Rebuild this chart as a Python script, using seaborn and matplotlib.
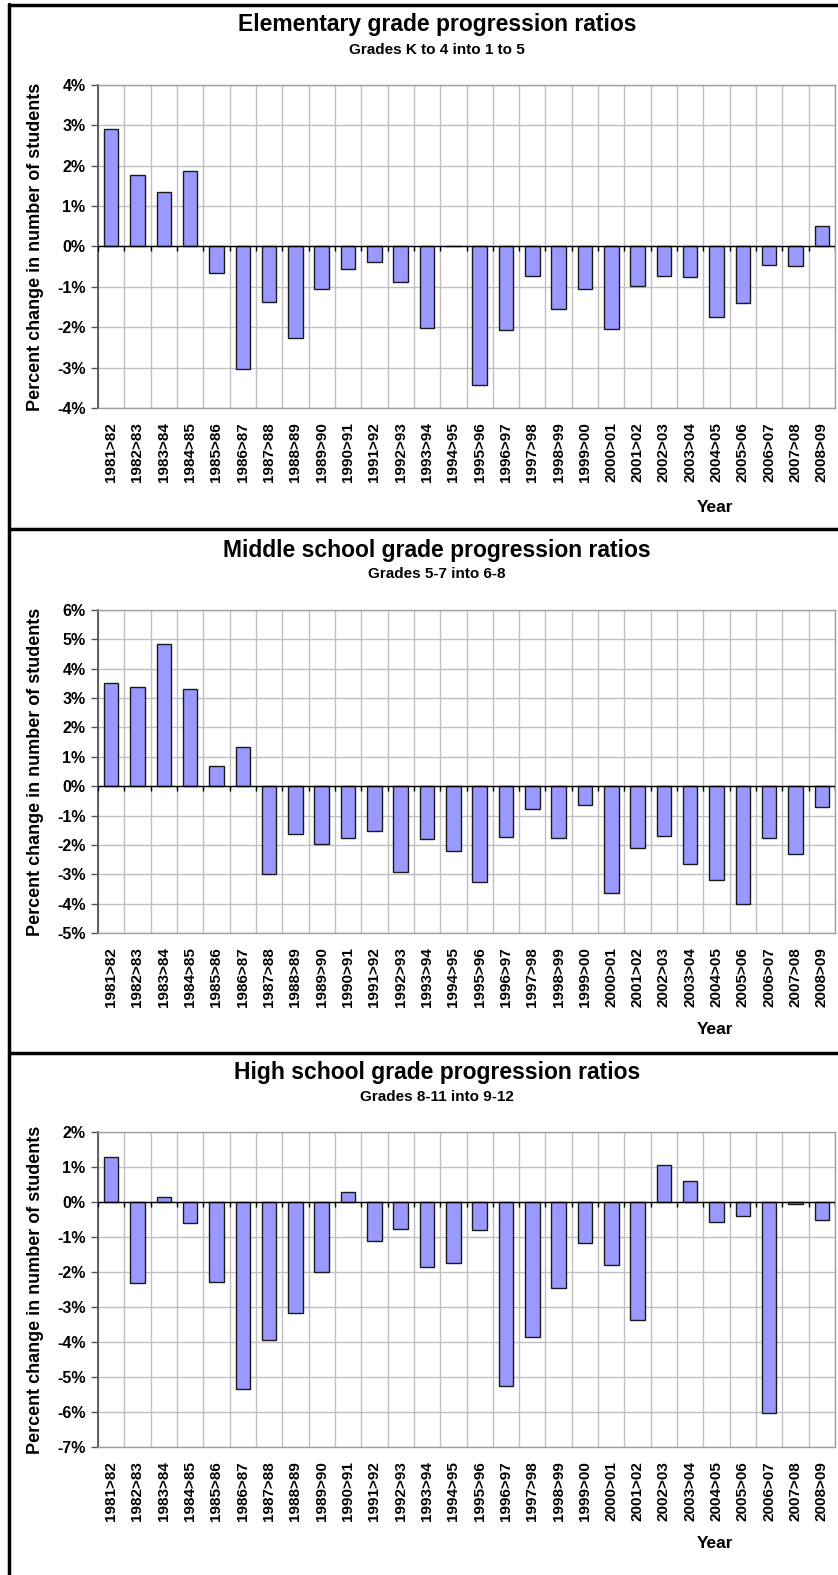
import numpy as np
import matplotlib
matplotlib.use("Agg")
import matplotlib.pyplot as plt
from matplotlib.lines import Line2D
from matplotlib.ticker import FuncFormatter, FixedLocator
import matplotlib.transforms as mtransforms
import seaborn as sns

# School-year transitions shared by all three panels
years = ["1981>82", "1982>83", "1983>84", "1984>85", "1985>86", "1986>87",
         "1987>88", "1988>89", "1989>90", "1990>91", "1991>92", "1992>93",
         "1993>94", "1994>95", "1995>96", "1996>97", "1997>98", "1998>99",
         "1999>00", "2000>01", "2001>02", "2002>03", "2003>04", "2004>05",
         "2005>06", "2006>07", "2007>08", "2008>09"]

# Percent change in number of students
elementary = [2.90, 1.76, 1.35, 1.87, -0.65, -3.03, -1.38, -2.27, -1.05, -0.56,
              -0.38, -0.88, -2.02, 0.02, -3.43, -2.06, -0.73, -1.54, -1.05, -2.05,
              -0.97, -0.74, -0.75, -1.74, -1.39, -0.46, -0.49, 0.50]
middle = [3.50, 3.38, 4.85, 3.30, 0.69, 1.35, -2.98, -1.63, -1.96, -1.78,
          -1.51, -2.93, -1.81, -2.22, -3.27, -1.72, -0.77, -1.78, -0.63, -3.64,
          -2.12, -1.71, -2.66, -3.21, -4.02, -1.78, -2.30, -0.71]
high = [1.30, -2.30, 0.14, -0.59, -2.28, -5.35, -3.94, -3.18, -1.99, 0.29,
        -1.10, -0.78, -1.85, -1.73, -0.79, -5.27, -3.86, -2.46, -1.18, -1.80,
        -3.38, 1.05, 0.61, -0.57, -0.39, -6.03, -0.05, -0.50]

titles = ["Elementary grade progression ratios",
          "Middle school grade progression ratios",
          "High school grade progression ratios"]
subtitles = ["Grades K to 4 into 1 to 5",
             "Grades 5-7 into 6-8",
             "Grades 8-11 into 9-12"]
y_ranges = [(-4, 4), (-5, 6), (-7, 2)]
series = [elementary, middle, high]

sns.set_theme(style="white")
plt.rcParams["font.family"] = ["Liberation Sans", "DejaVu Sans"]
plt.rcParams["font.weight"] = "bold"
plt.rcParams["text.color"] = "black"
plt.rcParams["axes.labelcolor"] = "black"
plt.rcParams["xtick.color"] = "black"
plt.rcParams["ytick.color"] = "black"
plt.rcParams["ytick.left"] = True

W, H = 838, 1575
fig = plt.figure(figsize=(W / 100, H / 100), dpi=100)
fig.patch.set_facecolor("white")

# panel layout in pixels: plot top, plot bottom, title y, subtitle y, "Year" y
layout = [
    (85, 408, 25, 50, 507),
    (610, 933, 551, 574, 1030),
    (1132, 1447, 1073, 1097, 1543),
]
left_px, right_px = 98, 835
bar_color = "#9999FF"
grid_color = "#C0C0C0"
axis_color = "#555555"


def fx(px):
    return px / W


def fy(py):
    return 1 - py / H


for vals, title, sub, (ymin, ymax), (top, bot, ty, sy, yy) in zip(
        series, titles, subtitles, y_ranges, layout):
    ax = fig.add_axes([fx(left_px), fy(bot), fx(right_px - left_px), (bot - top) / H])
    sns.barplot(x=years, y=vals, color=bar_color, saturation=1, width=0.55,
                edgecolor="#1a1a1a", linewidth=1.0, ax=ax, zorder=3)
    n = len(years)
    ax.set_xlim(-0.5, n - 0.5)
    ax.set_ylim(ymin, ymax)
    ax.set_yticks(np.arange(ymin, ymax + 1, 1))
    ax.yaxis.set_major_formatter(FuncFormatter(lambda v, p: f"{int(round(v))}%"))
    ax.set_xlabel("")
    ax.set_ylabel("")

    # grid: horizontal at each percent, vertical at category boundaries
    ax.set_axisbelow(True)
    boundaries = np.arange(-0.5, n, 1)
    ax.xaxis.set_minor_locator(FixedLocator(boundaries))
    ax.grid(True, axis="y", which="major", color=grid_color, linewidth=1, zorder=0)
    ax.grid(True, axis="x", which="minor", color=grid_color, linewidth=1, zorder=0)
    ax.grid(False, axis="x", which="major")

    ax.tick_params(axis="x", which="both", length=0, pad=10, labelsize=11,
                   labelrotation=90, colors="black")
    ax.tick_params(axis="y", which="major", length=5, width=1, color=axis_color,
                   labelcolor="black", direction="out", pad=4, labelsize=11.5,
                   left=True)
    for lab in ax.get_xticklabels() + ax.get_yticklabels():
        lab.set_fontweight("bold")

    for side in ["top", "right", "bottom"]:
        ax.spines[side].set_color("#A0A0A0")
        ax.spines[side].set_linewidth(1)
    ax.spines["left"].set_color(axis_color)
    ax.spines["left"].set_linewidth(1.3)

    # category axis crossing at zero with boundary tick marks below it
    ax.axhline(0, color="black", linewidth=1, zorder=4)
    zero_frac = (0 - ymin) / (ymax - ymin)
    tick_frac = 5 / (bot - top)
    trans = mtransforms.blended_transform_factory(ax.transData, ax.transAxes)
    ax.vlines(boundaries, zero_frac - tick_frac, zero_frac, colors="black",
              linewidth=1, transform=trans, zorder=4)

    fig.text(fx(437), fy(ty), title, ha="center", va="center",
             fontsize=16.5, fontweight="bold", color="black")
    fig.text(fx(437), fy(sy), sub, ha="center", va="center",
             fontsize=11, fontweight="bold", color="black")
    fig.text(fx(35), fy((top + bot) / 2), "Percent change in number of students",
             rotation=90, ha="center", va="center", fontsize=13,
             fontweight="bold", color="black")
    fig.text(fx(715), fy(yy), "Year", ha="center", va="center",
             fontsize=12.5, fontweight="bold", color="black")

# chart frames
frame_kw = dict(color="black", linewidth=2.5, transform=fig.transFigure)
fig.add_artist(Line2D([fx(9), fx(9)], [0, fy(4)], **frame_kw))
for yline in (4.5, 528.5, 1053):
    fig.add_artist(Line2D([fx(9), 1], [fy(yline), fy(yline)], **frame_kw))

fig.savefig("out.png", dpi=100, facecolor="white")
